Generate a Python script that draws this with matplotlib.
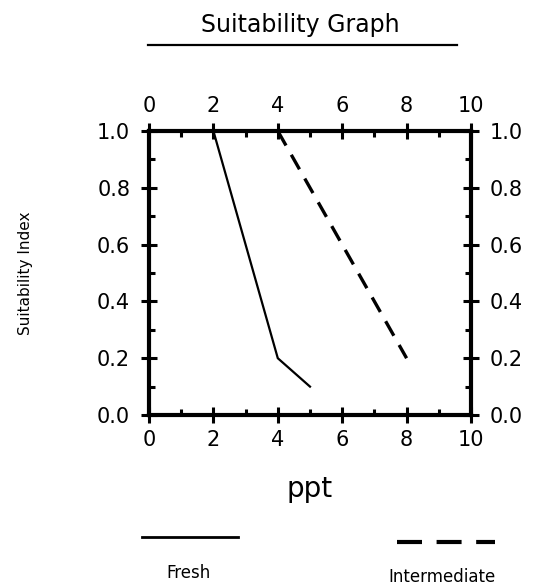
import matplotlib
matplotlib.use("Agg")
import matplotlib.pyplot as plt
from matplotlib.lines import Line2D
from matplotlib.ticker import MultipleLocator

# Data
fresh_x = [0, 2, 4, 5]
fresh_y = [1.0, 1.0, 0.2, 0.1]
inter_x = [4, 8]
inter_y = [1.0, 0.2]
x_ticks = [0, 2, 4, 6, 8, 10]
x_tick_labels = ["0", "2", "4", "6", "8", "10"]
y_ticks = [0.0, 0.2, 0.4, 0.6, 0.8, 1.0]
y_tick_labels = ["0.0", "0.2", "0.4", "0.6", "0.8", "1.0"]

plt.rcParams["font.family"] = ["DejaVu Sans"]

fig = plt.figure(figsize=(5.43, 5.88), dpi=100)
ax = fig.add_axes([0.2744, 0.2942, 0.593, 0.4830])

# Lines
ax.plot(fresh_x, fresh_y, color="black", linewidth=1.6, solid_joinstyle="miter")
ax.plot(inter_x, inter_y, color="black", linewidth=2.4, linestyle=(0, (5, 3.2)))

ax.set_xlim(0, 10)
ax.set_ylim(0, 1.0)
ax.set_xticks(x_ticks)
ax.set_xticklabels(x_tick_labels)
ax.set_yticks(y_ticks)
ax.set_yticklabels(y_tick_labels)
ax.xaxis.set_minor_locator(MultipleLocator(1))
ax.yaxis.set_minor_locator(MultipleLocator(0.1))

for s in ax.spines.values():
    s.set_linewidth(3.0)

ax.tick_params(which="major", direction="inout", length=11, width=2.2,
               top=True, right=True, labeltop=True, labelright=True,
               labelsize=15, pad=5)
ax.tick_params(axis="y", which="major", pad=8)
ax.tick_params(which="minor", direction="in", length=4, width=2.2,
               top=True, right=True)

ax.set_xlabel("ppt", fontsize=20, labelpad=18)
ax.set_ylabel("Suitability Index", fontsize=11, labelpad=46)

# Title with underline
fig.text(0.553, 0.957, "Suitability Graph", ha="center", va="center", fontsize=17)
fig.add_artist(Line2D([148 / 543, 457 / 543], [1 - 45 / 588, 1 - 45 / 588],
                      color="black", linewidth=1.6))

# Legend below the axis
fig.add_artist(Line2D([142 / 543, 238 / 543], [1 - 537 / 588, 1 - 537 / 588],
                      color="black", linewidth=2.0))
fig.add_artist(Line2D([397 / 543, 495 / 543], [1 - 542 / 588, 1 - 542 / 588],
                      color="black", linewidth=3.0, linestyle=(0, (6, 3.5))))
fig.text(188 / 543, 1 - 573 / 588, "Fresh", ha="center", va="center", fontsize=12)
fig.text(442 / 543, 1 - 577 / 588, "Intermediate", ha="center", va="center", fontsize=12)

fig.savefig("out.png", dpi=100)
